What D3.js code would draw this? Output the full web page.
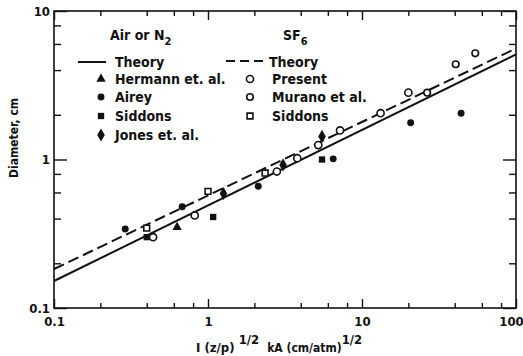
<!DOCTYPE html>
<html>
<head>
<meta charset="utf-8">
<script src="https://cdn.jsdelivr.net/npm/d3@7"></script>
<style>
  body { margin: 0; background: #fff; }
  text { font-family: "Liberation Sans Narrow", "DejaVu Sans Condensed", sans-serif; font-weight: bold; fill: #111; }
</style>
</head>
<body>
<script>
// Data: [current parameter, diameter in cm]
var theoryAir = [[0.1, 0.152], [100, 5.1]];
var theorySF6 = [[0.1, 0.183], [100, 5.6]];
var hermann = [[0.63, 0.35]];
var airey = [[0.29, 0.34], [0.68, 0.48], [2.12, 0.66], [6.5, 1.01], [20.7, 1.77], [44, 2.05]];
var siddonsAir = [[0.4, 0.30], [1.08, 0.41], [5.5, 1.0]];
var jones = [[1.26, 0.59], [3.07, 0.92], [5.5, 1.43]];
var present = [[0.44, 0.30], [0.82, 0.42], [2.8, 0.83], [3.8, 1.02], [5.2, 1.25], [7.2, 1.57], [13.2, 2.05], [20, 2.82]];
var murano = [[26.5, 2.82], [40.6, 4.38], [54.4, 5.19]];
var siddonsSF6 = [[0.4, 0.345], [1.0, 0.61], [2.35, 0.81]];

// Tick values
var xMajor = [0.1, 1, 10, 100];
var yMajor = [0.1, 1, 10];
var minorSteps = [2, 4, 6, 8];
var xLabels = ["0.1", "1", "10", "100"];
var yLabels = ["0.1", "1", "10"];

var width = 523, height = 356;
var margin = {left: 54, top: 11, right: 7, bottom: 48};
var plotW = width - margin.left - margin.right,
    plotH = height - margin.top - margin.bottom;

var svg = d3.select("body").append("svg")
    .attr("width", width)
    .attr("height", height);

var g = svg.append("g")
    .attr("transform", "translate(" + margin.left + "," + margin.top + ")");

var x = d3.scaleLog().domain([0.1, 100]).range([0, plotW]);
var y = d3.scaleLog().domain([0.1, 10]).range([plotH, 0]);

// minor tick values between majors
function minors(majors) {
    var out = [];
    majors.slice(0, -1).forEach(function (m) {
        minorSteps.forEach(function (s) { out.push(m * s); });
    });
    return out;
}

// Ticks on all four sides, pointing inward
function addAxis(axisFn, scale, values, size, labels, transform) {
    var ax = axisFn(scale).tickValues(values).tickSizeInner(-size).tickSizeOuter(0);
    if (labels) {
        ax.tickFormat(function (d, i) { return labels[i]; });
    } else {
        ax.tickFormat("");
    }
    var sel = g.append("g").attr("transform", transform || null).call(ax);
    sel.select(".domain").remove();
    sel.selectAll("line").attr("stroke", "#111").attr("stroke-width", 1.4);
    sel.selectAll("text").style("font-size", "13px");
    return sel;
}

addAxis(d3.axisBottom, x, xMajor, 9, xLabels, "translate(0," + plotH + ")").call(function (s) {
    s.selectAll(".tick text").attr("y", 9)
        .attr("dx", function (d) { return d === 100 ? -5 : 0; }); // keep last label inside
});
addAxis(d3.axisBottom, x, minors(xMajor), 5, null, "translate(0," + plotH + ")");
addAxis(d3.axisTop, x, xMajor, 9, null);
addAxis(d3.axisTop, x, minors(xMajor), 5, null);

addAxis(d3.axisLeft, y, yMajor, 13, yLabels).call(function (s) {
    s.selectAll(".tick text").attr("x", -4);
});
addAxis(d3.axisLeft, y, minors(yMajor), 7, null);
addAxis(d3.axisRight, y, yMajor, 13, null, "translate(" + plotW + ",0)");
addAxis(d3.axisRight, y, minors(yMajor), 7, null, "translate(" + plotW + ",0)");

// frame
g.append("rect")
    .attr("width", plotW)
    .attr("height", plotH)
    .attr("fill", "none")
    .attr("stroke", "#111")
    .attr("stroke-width", 1.6);

// theory lines
var line = d3.line()
    .x(function (d) { return x(d[0]); })
    .y(function (d) { return y(d[1]); });

g.append("path").datum(theoryAir)
    .attr("d", line)
    .attr("fill", "none")
    .attr("stroke", "#111")
    .attr("stroke-width", 2);

g.append("path").datum(theorySF6)
    .attr("d", line)
    .attr("fill", "none")
    .attr("stroke", "#111")
    .attr("stroke-width", 2)
    .attr("stroke-dasharray", "11,5");

// marker styles
var markers = {
    hermann: {type: d3.symbolTriangle, size: 38, fill: "#111", stroke: "none"},
    airey: {type: d3.symbolCircle, size: 38, fill: "#111", stroke: "none"},
    siddonsAir: {type: d3.symbolSquare, size: 40, fill: "#111", stroke: "none"},
    jones: {type: d3.symbolDiamond, size: 50, fill: "#111", stroke: "none"},
    present: {type: d3.symbolCircle, size: 40, fill: "#fff", stroke: "#111"},
    murano: {type: d3.symbolCircle, size: 34, fill: "#fff", stroke: "#111"},
    siddonsSF6: {type: d3.symbolSquare, size: 34, fill: "#fff", stroke: "#111"}
};

function drawPoints(data, m) {
    g.append("g").selectAll("path")
        .data(data)
        .enter().append("path")
        .attr("transform", function (d) { return "translate(" + x(d[0]) + "," + y(d[1]) + ")"; })
        .attr("d", d3.symbol().type(m.type).size(m.size))
        .attr("fill", m.fill)
        .attr("stroke", m.stroke)
        .attr("stroke-width", 1.6);
}

drawPoints(siddonsSF6, markers.siddonsSF6);
drawPoints(present, markers.present);
drawPoints(murano, markers.murano);
drawPoints(hermann, markers.hermann);
drawPoints(airey, markers.airey);
drawPoints(siddonsAir, markers.siddonsAir);
drawPoints(jones, markers.jones);

// legend
var leg = svg.append("g");

function heading(xp, yp, main, sub) {
    var t = leg.append("text").attr("x", xp).attr("y", yp).style("font-size", "14px");
    t.append("tspan").text(main);
    t.append("tspan").attr("dy", 5).style("font-size", "11px").text(sub);
}
heading(110, 40, "Air or N", "2");
heading(283, 40, "SF", "6");

function legendLine(x0, x1, yp, dash) {
    leg.append("line")
        .attr("x1", x0).attr("x2", x1)
        .attr("y1", yp).attr("y2", yp)
        .attr("stroke", "#111")
        .attr("stroke-width", 2)
        .attr("stroke-dasharray", dash || null);
}
legendLine(78, 106, 62);
legendLine(226, 263, 61, "9,5");

function legendItem(xs, xt, yp, m, label) {
    if (m) {
        leg.append("path")
            .attr("transform", "translate(" + xs + "," + yp + ")")
            .attr("d", d3.symbol().type(m.type).size(m.size))
            .attr("fill", m.fill)
            .attr("stroke", m.stroke)
            .attr("stroke-width", 1.6);
    }
    leg.append("text")
        .attr("x", xt).attr("y", yp + 5)
        .style("font-size", "14px")
        .text(label);
}
legendItem(0, 115, 62, null, "Theory");
legendItem(101, 115, 79, markers.hermann, "Hermann et. al.");
legendItem(101, 115, 97, markers.airey, "Airey");
legendItem(101, 115, 116, markers.siddonsAir, "Siddons");
legendItem(101, 115, 135, markers.jones, "Jones et. al.");

legendItem(0, 269, 62, null, "Theory");
legendItem(250, 272, 79, markers.present, "Present");
legendItem(250, 272, 97, markers.murano, "Murano et al.");
legendItem(250, 272, 116, markers.siddonsSF6, "Siddons");

// axis titles
var xt = svg.append("text")
    .attr("x", 196).attr("y", 352)
    .style("font-size", "13px");
xt.append("tspan").text("I (z/p) ");
xt.append("tspan").attr("dy", -8).text("1/2");
xt.append("tspan").attr("dy", 8).attr("dx", 8).style("font-size", "12px").text("kA (cm/atm)");
xt.append("tspan").attr("dy", -8).text("1/2");

svg.append("text")
    .attr("transform", "translate(18,138) rotate(-90)")
    .attr("text-anchor", "middle")
    .style("font-size", "12px")
    .text("Diameter, cm");
</script>
</body>
</html>
